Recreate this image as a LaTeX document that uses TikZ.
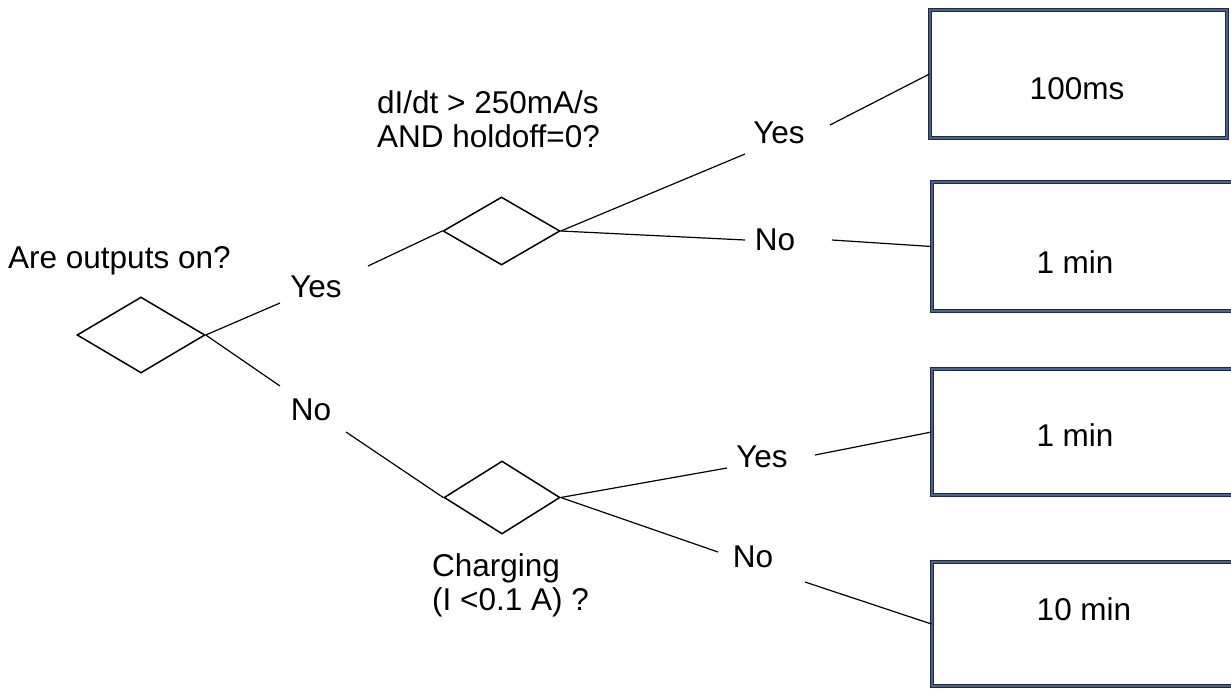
\documentclass[tikz,border=0pt]{standalone}
\usepackage{fontspec}
\setmainfont{Liberation Sans}
\usetikzlibrary{shapes.geometric}
\definecolor{boxblue}{HTML}{3D63A6}
\definecolor{boxedge}{HTML}{2A2A2A}
\begin{document}
\begin{tikzpicture}[x=1pt,y=-1pt,
  txt/.style={inner sep=0pt, font=\fontsize{31.5}{34}\selectfont},
  decision/.style={diamond, draw, line width=1.5pt, inner sep=0pt},
  result/.style={rectangle, draw=boxedge, double=boxblue, double distance=1.6pt,
                 line width=1.1pt, inner sep=0pt},
  link/.style={line width=1.2pt}]
\clip (0,0) rectangle (1231,691);

% decision diamonds
\node[decision, minimum width=128pt, minimum height=76pt] (d1) at (141,335) {};
\node[decision, minimum width=117pt, minimum height=68pt] (d2) at (501.5,231) {};
\node[decision, minimum width=116pt, minimum height=73pt] (d3) at (502,497.5) {};

% questions
\node[txt, anchor=base west] (q1) at (8,268) {Are outputs on?};
\node[txt, anchor=north west, align=left] (q2) at (377,90) {dI/dt > 250mA/s\\AND holdoff=0?};
\node[txt, anchor=north west, align=left] (q3) at (432,553) {Charging\\(I <0.1 A) ?};

% branch labels
\node[txt] (y1) at (316,287) {Yes};
\node[txt] (n1) at (311,410) {No};
\node[txt] (y2) at (779,133) {Yes};
\node[txt] (n2) at (775,240) {No};
\node[txt] (y3) at (762,457) {Yes};
\node[txt] (n3) at (753,557) {No};

% outcome boxes
\node[result, minimum width=297pt, minimum height=128pt] (b1) at (1078.5,74) {};
\node[result, minimum width=318pt, minimum height=129pt] (b2) at (1091,246.5) {};
\node[result, minimum width=318pt, minimum height=126pt] (b3) at (1091,432) {};
\node[result, minimum width=318pt, minimum height=124pt] (b4) at (1091,624) {};
\node[txt] (t1) at (1077,89) {100ms};
\node[txt] (t2) at (1075,262) {1 min};
\node[txt] (t3) at (1075,435) {1 min};
\node[txt] (t4) at (1084,609) {10 min};

% connector ends beside the labels
\coordinate (y1a) at (280,303);
\coordinate (y1b) at (368,266);
\coordinate (n1a) at (280,386);
\coordinate (n1b) at (346,432);
\coordinate (y2a) at (745,154);
\coordinate (y2b) at (830,125);
\coordinate (n2a) at (745,240);
\coordinate (n2b) at (832,240);
\coordinate (y3a) at (727,468);
\coordinate (y3b) at (815,455);
\coordinate (n3a) at (718,552);
\coordinate (n3b) at (805,582);

% connectors
\draw[link] (d1.east) -- (y1a);
\draw[link] (y1b) -- (d2.west);
\draw[link] (d1.east) -- (n1a);
\draw[link] (n1b) -- (d3.west);
\draw[link] (d2.east) -- (y2a);
\draw[link] (y2b) -- (b1.west);
\draw[link] (d2.east) -- (n2a);
\draw[link] (n2b) -- (b2.west);
\draw[link] (d3.east) -- (y3a);
\draw[link] (y3b) -- (b3.west);
\draw[link] (d3.east) -- (n3a);
\draw[link] (n3b) -- (b4.west);
\end{tikzpicture}
\end{document}
